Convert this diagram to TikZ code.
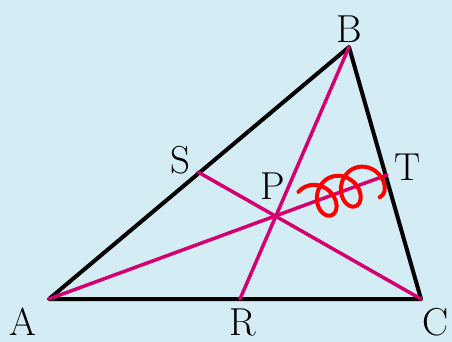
\documentclass[tikz,border=0pt]{standalone}
\usepackage{tikz}
\definecolor{bgblue}{RGB}{212,236,243}
\definecolor{cevian}{RGB}{212,0,112}
\begin{document}
\begin{tikzpicture}[x=1pt, y=-1pt, every node/.style={font=\fontsize{39}{40}\selectfont, inner sep=0pt},
  side/.style={line width=4pt, line cap=round, line join=round},
  ceva/.style={cevian, line width=3.5pt, line cap=round}]
  % background
  \fill[bgblue] (0,0) rectangle (452,342);
  \useasboundingbox (0,0) rectangle (452,342);
  % vertices and feet of the cevians
  \coordinate (A) at (49,299);
  \coordinate (B) at (349,47);
  \coordinate (C) at (421,299);
  \coordinate (R) at (240,299);
  \coordinate (S) at (198,172);
  \coordinate (T) at (387,175);
  % triangle
  \draw[side] (A) -- (B) -- (C) -- cycle;
  % cevians through P
  \draw[ceva] (A) -- (T);
  \draw[ceva] (B) -- (R);
  \draw[ceva] (C) -- (S);
  % scribble on PT
  \begin{scope}[shift={(307,205.3)}, rotate=20.7]
    \draw[red, line width=4pt, line cap=round, line join=round, smooth, samples=120, domain=60:990]
      plot ({4.1*\x/57.296 - 15*cos(\x)}, {-18*sin(\x)});
  \end{scope}
  % labels
  \node (lA) at (23,322) {A};
  \node (lB) at (349,29) {B};
  \node (lC) at (436,322) {C};
  \node (lR) at (243,322) {R};
  \node (lS) at (180,160) {S};
  \node (lT) at (408,167) {T};
  \node (lP) at (273,186) {P};
\end{tikzpicture}
\end{document}
